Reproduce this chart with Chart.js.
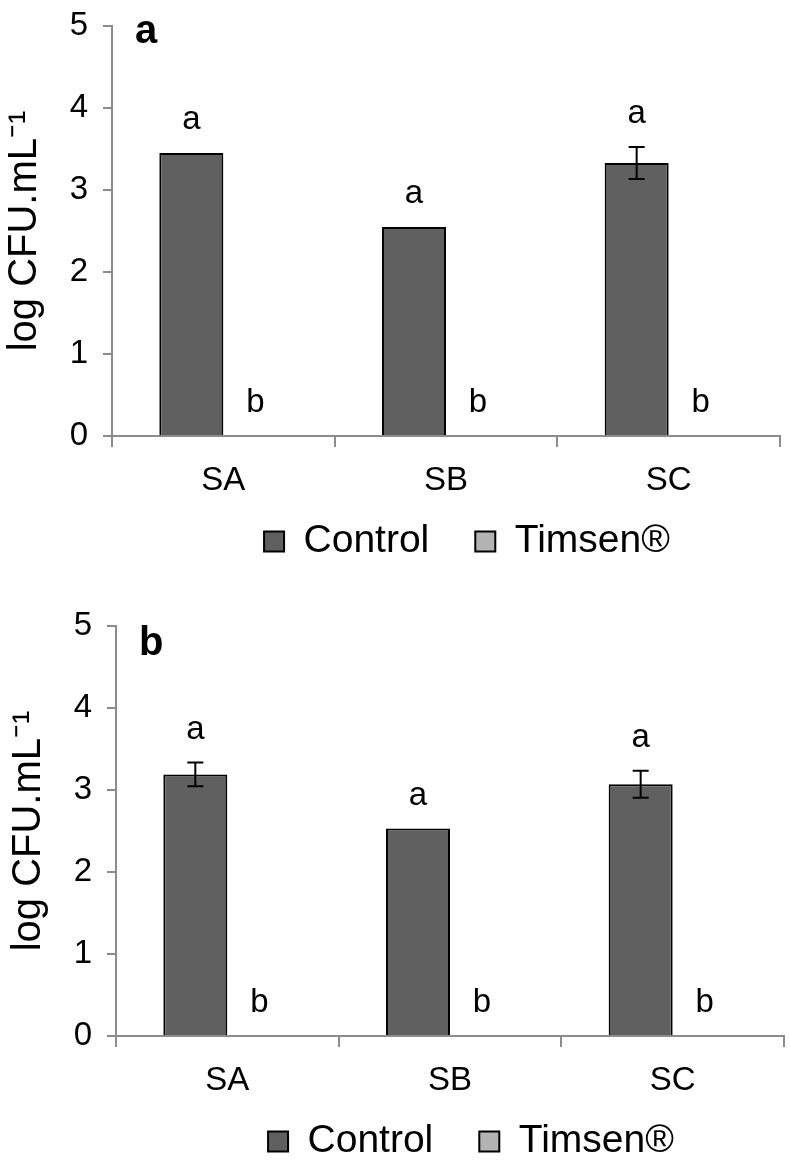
<!DOCTYPE html>
<html>
<head>
<meta charset="utf-8">
<script src="https://cdn.jsdelivr.net/npm/chart.js@4/dist/chart.umd.min.js"></script>
<style>
  body { margin: 0; background: #fff; width: 790px; height: 1169px; position: relative; overflow: hidden; }
  canvas { position: absolute; }
  #chartA { left: 0; top: 0; }
  #chartB { left: 4px; top: 600px; }
</style>
</head>
<body>
<canvas id="chartA" width="790" height="601"></canvas>
<canvas id="chartB" width="790" height="601"></canvas>
<script>
// datos
const categorias = ['SA', 'SB', 'SC'];
const series = ['Control', 'Timsen®'];
const yMin = 0, yMax = 5, yStep = 1;

// panel a
const controlA = [3.45, 2.55, 3.33];
const controlErrA = [0, 0, 0.195];
const timsenA = [0, 0, 0];
const timsenErrA = [0, 0, 0];
const letrasControlA = ['a', 'a', 'a'];
const letrasTimsenA = ['b', 'b', 'b'];

// panel b
const controlB = [3.19, 2.53, 3.07];
const controlErrB = [0.145, 0, 0.165];
const timsenB = [0, 0, 0];
const timsenErrB = [0, 0, 0];
const letrasControlB = ['a', 'a', 'a'];
const letrasTimsenB = ['b', 'b', 'b'];

const FONT = '"Liberation Sans", Arial, sans-serif';
Chart.defaults.font.family = FONT;
Chart.defaults.color = '#000';

// barras de error, letras y etiqueta del panel
const anotaciones = {
    id: 'anotaciones',
    afterLayout(chart, args, opts) {
        const lg = chart.legend;
        lg.left += opts.legendDx; lg.right += opts.legendDx;
        lg.top += opts.legendDy; lg.bottom += opts.legendDy;
    },
    afterDatasetsDraw(chart, args, opts) {
        const ctx = chart.ctx;
        const y = chart.scales.y;
        ctx.save();
        chart.data.datasets.forEach((ds, i) => {
            chart.getDatasetMeta(i).data.forEach((bar, j) => {
                const v = ds.data[j], e = ds.errores[j];
                if (e > 0) {
                    const t = y.getPixelForValue(v + e), b = y.getPixelForValue(v - e);
                    ctx.strokeStyle = '#000';
                    ctx.lineWidth = 2;
                    ctx.beginPath();
                    ctx.moveTo(bar.x, t); ctx.lineTo(bar.x, b);
                    ctx.moveTo(bar.x - 8, t); ctx.lineTo(bar.x + 8, t);
                    ctx.moveTo(bar.x - 8, b); ctx.lineTo(bar.x + 8, b);
                    ctx.stroke();
                }
                ctx.fillStyle = '#000';
                ctx.font = '33px ' + FONT;
                ctx.textAlign = 'center';
                ctx.textBaseline = 'alphabetic';
                ctx.fillText(ds.letras[j], bar.x, y.getPixelForValue(v + e) - 24);
            });
        });
        ctx.font = 'bold 40px ' + FONT;
        ctx.textAlign = 'left';
        ctx.textBaseline = 'alphabetic';
        ctx.fillText(opts.panel, chart.chartArea.left + 23, chart.chartArea.top + opts.panelY);
        ctx.restore();
    }
};

function crearGrafico(id, control, controlErr, timsen, timsenErr, letrasC, letrasT, panel, panelY) {
    return new Chart(document.getElementById(id), {
        type: 'bar',
        data: {
            labels: categorias,
            datasets: [{
                label: series[0],
                data: control,
                errores: controlErr,
                letras: letrasC,
                backgroundColor: '#606060',
                borderColor: '#000',
                borderWidth: 2
            }, {
                label: series[1],
                data: timsen,
                errores: timsenErr,
                letras: letrasT,
                backgroundColor: '#b3b3b3',
                borderColor: '#000',
                borderWidth: 2
            }]
        },
        options: {
            responsive: false,
            animation: false,
            layout: { padding: { top: 26, left: 0, right: 10, bottom: 0 } },
            datasets: { bar: { categoryPercentage: 0.575, barPercentage: 1.0 } },
            scales: {
                x: {
                    grid: { offset: true, drawOnChartArea: false, tickLength: 11, color: '#8c8c8c', lineWidth: 2 },
                    border: { color: '#8c8c8c', width: 2 },
                    ticks: { font: { size: 33 }, padding: 14, color: '#000' },
                    afterFit(scale) { scale.height = 70; }
                },
                y: {
                    min: yMin, max: yMax,
                    grid: { drawOnChartArea: false, tickLength: 9, color: '#8c8c8c', lineWidth: 2 },
                    border: { color: '#8c8c8c', width: 2 },
                    ticks: { stepSize: yStep, font: { size: 33 }, padding: 15, color: '#000' },
                    title: {
                        display: true,
                        text: 'log CFU.mL⁻¹',
                        font: { size: 40, lineHeight: 1 },
                        padding: { top: 5, bottom: 0 },
                        color: '#000'
                    },
                    afterFit(scale) {
                        scale.width = 112;
                        scale.paddingTop = 0;
                        scale.paddingBottom = 0;
                    }
                }
            },
            plugins: {
                legend: {
                    position: 'bottom',
                    labels: { font: { size: 39 }, boxWidth: 20, boxHeight: 20, padding: 46, color: '#000' }
                },
                tooltip: { enabled: false },
                anotaciones: { panel: panel, panelY: panelY, legendDx: 77, legendDy: -30 }
            }
        },
        plugins: [anotaciones]
    });
}

crearGrafico('chartA', controlA, controlErrA, timsenA, timsenErrA, letrasControlA, letrasTimsenA, 'a', 17);
crearGrafico('chartB', controlB, controlErrB, timsenB, timsenErrB, letrasControlB, letrasTimsenB, 'b', 29);
</script>
</body>
</html>
